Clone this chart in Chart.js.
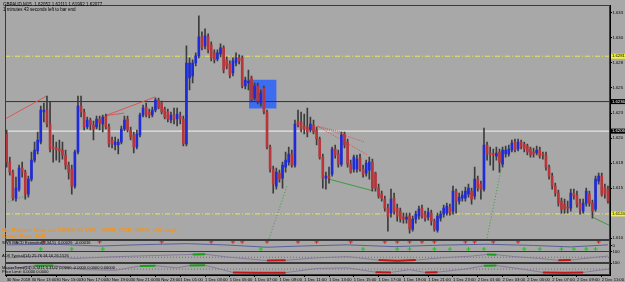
<!DOCTYPE html>
<html>
<head>
<meta charset="utf-8">
<script src="https://cdn.jsdelivr.net/npm/chart.js@4.4.1/dist/chart.umd.min.js"></script>
<style>
  html, body { margin: 0; padding: 0; background: #a8a8a8; overflow: hidden; }
  #wrap { width: 625px; height: 282px; }
</style>
</head>
<body>
<div id="wrap"><canvas id="chart" width="625" height="282"></canvas></div>
<script>
// GBPAUD M15, one entry per bar (bar 0 = 30 Nov 11:00)
const timeLabels = [
  "30 Nov 2018", "30 Nov 13:00", "30 Nov 15:00", "30 Nov 17:00", "30 Nov 19:00",
  "30 Nov 21:00", "30 Nov 23:00", "1 Dec 01:00", "1 Dec 03:00", "1 Dec 05:00",
  "1 Dec 07:00", "1 Dec 09:00", "1 Dec 11:00", "1 Dec 13:00", "1 Dec 15:00",
  "1 Dec 17:00", "1 Dec 19:00", "1 Dec 21:00", "1 Dec 23:00", "2 Dec 01:00",
  "2 Dec 03:00", "2 Dec 05:00", "2 Dec 07:00", "2 Dec 09:00", "2 Dec 11:00",
];

const opens = [
  1.6204, 1.6176, 1.6166, 1.6140, 1.6149, 1.6170, 1.6166, 1.6144, 1.6159, 1.6178,
  1.6187, 1.6196, 1.6226, 1.6228, 1.6214, 1.6191, 1.6190, 1.6189, 1.6188, 1.6183,
  1.6173, 1.6169, 1.6152, 1.6186, 1.6232, 1.6226, 1.6211, 1.6218, 1.6213, 1.6211,
  1.6219, 1.6214, 1.6222, 1.6211, 1.6198, 1.6193, 1.6193, 1.6196, 1.6209, 1.6219,
  1.6208, 1.6203, 1.6191, 1.6203, 1.6223, 1.6231, 1.6226, 1.6223, 1.6228, 1.6238,
  1.6235, 1.6229, 1.6226, 1.6218, 1.6223, 1.6219, 1.6222, 1.6219, 1.6194, 1.6260,
  1.6262, 1.6275, 1.6282, 1.6301, 1.6292, 1.6301, 1.6293, 1.6285, 1.6279, 1.6284,
  1.6290, 1.6278, 1.6274, 1.6265, 1.6275, 1.6280, 1.6280, 1.6252, 1.6255, 1.6260,
  1.6240, 1.6252, 1.6235, 1.6250, 1.6226, 1.6191, 1.6169, 1.6152, 1.6165, 1.6160,
  1.6171, 1.6176, 1.6184, 1.6173, 1.6216, 1.6216, 1.6212, 1.6211, 1.6208, 1.6213,
  1.6208, 1.6199, 1.6181, 1.6160, 1.6162, 1.6164, 1.6189, 1.6184, 1.6174, 1.6204,
  1.6196, 1.6174, 1.6169, 1.6169, 1.6180, 1.6169, 1.6165, 1.6168, 1.6176, 1.6165,
  1.6150, 1.6144, 1.6139, 1.6130, 1.6125, 1.6140, 1.6130, 1.6127, 1.6121, 1.6119,
  1.6122, 1.6109, 1.6119, 1.6122, 1.6130, 1.6124, 1.6121, 1.6125, 1.6117, 1.6108,
  1.6120, 1.6124, 1.6125, 1.6131, 1.6127, 1.6147, 1.6137, 1.6140, 1.6140, 1.6144,
  1.6147, 1.6142, 1.6159, 1.6154, 1.6149, 1.6193, 1.6185, 1.6184, 1.6182, 1.6186,
  1.6174, 1.6184, 1.6184, 1.6188, 1.6196, 1.6189, 1.6196, 1.6194, 1.6192, 1.6189,
  1.6186, 1.6185, 1.6188, 1.6184, 1.6183, 1.6171, 1.6162, 1.6152, 1.6145, 1.6137,
  1.6134, 1.6131, 1.6130, 1.6145, 1.6143, 1.6135, 1.6127, 1.6135, 1.6144, 1.6135,
  1.6129, 1.6157, 1.6162, 1.6151, 1.6149,
];
const highs = [
  1.6208, 1.6181, 1.6168, 1.6161, 1.6173, 1.6176, 1.6168, 1.6162, 1.6186, 1.6196,
  1.6206, 1.6232, 1.6235, 1.6242, 1.6236, 1.6203, 1.6196, 1.6198, 1.6196, 1.6188,
  1.6176, 1.6173, 1.6188, 1.6242, 1.6242, 1.6229, 1.6221, 1.6220, 1.6217, 1.6222,
  1.6222, 1.6223, 1.6224, 1.6214, 1.6201, 1.6201, 1.6199, 1.6212, 1.6222, 1.6222,
  1.6211, 1.6206, 1.6208, 1.6225, 1.6233, 1.6235, 1.6229, 1.6231, 1.6240, 1.6240,
  1.6237, 1.6231, 1.6229, 1.6226, 1.6230, 1.6230, 1.6226, 1.6222, 1.6292, 1.6280,
  1.6278, 1.6285, 1.6322, 1.6306, 1.6309, 1.6304, 1.6296, 1.6288, 1.6288, 1.6294,
  1.6292, 1.6281, 1.6277, 1.6280, 1.6285, 1.6283, 1.6282, 1.6261, 1.6268, 1.6262,
  1.6255, 1.6255, 1.6248, 1.6252, 1.6228, 1.6193, 1.6172, 1.6170, 1.6168, 1.6176,
  1.6186, 1.6191, 1.6188, 1.6218, 1.6228, 1.6226, 1.6224, 1.6230, 1.6221, 1.6218,
  1.6211, 1.6201, 1.6184, 1.6166, 1.6171, 1.6191, 1.6193, 1.6188, 1.6206, 1.6206,
  1.6199, 1.6178, 1.6183, 1.6183, 1.6184, 1.6173, 1.6178, 1.6181, 1.6179, 1.6166,
  1.6154, 1.6147, 1.6142, 1.6134, 1.6149, 1.6145, 1.6134, 1.6130, 1.6125, 1.6125,
  1.6125, 1.6122, 1.6127, 1.6132, 1.6133, 1.6127, 1.6130, 1.6128, 1.6119, 1.6125,
  1.6127, 1.6133, 1.6135, 1.6134, 1.6152, 1.6149, 1.6145, 1.6147, 1.6151, 1.6154,
  1.6150, 1.6171, 1.6162, 1.6157, 1.6210, 1.6196, 1.6191, 1.6189, 1.6191, 1.6189,
  1.6191, 1.6192, 1.6193, 1.6198, 1.6199, 1.6199, 1.6198, 1.6196, 1.6194, 1.6191,
  1.6190, 1.6192, 1.6191, 1.6186, 1.6186, 1.6173, 1.6165, 1.6155, 1.6148, 1.6140,
  1.6139, 1.6137, 1.6149, 1.6149, 1.6147, 1.6139, 1.6139, 1.6150, 1.6147, 1.6138,
  1.6162, 1.6165, 1.6165, 1.6154, 1.6152,
];
const lows = [
  1.6171, 1.6163, 1.6138, 1.6137, 1.6147, 1.6161, 1.6139, 1.6141, 1.6157, 1.6176,
  1.6184, 1.6194, 1.6216, 1.6211, 1.6186, 1.6176, 1.6178, 1.6176, 1.6179, 1.6169,
  1.6159, 1.6144, 1.6150, 1.6184, 1.6221, 1.6208, 1.6209, 1.6208, 1.6198, 1.6209,
  1.6208, 1.6206, 1.6209, 1.6191, 1.6190, 1.6188, 1.6184, 1.6194, 1.6207, 1.6206,
  1.6198, 1.6185, 1.6189, 1.6201, 1.6221, 1.6221, 1.6220, 1.6221, 1.6226, 1.6229,
  1.6224, 1.6219, 1.6216, 1.6215, 1.6214, 1.6212, 1.6214, 1.6192, 1.6192, 1.6248,
  1.6255, 1.6272, 1.6280, 1.6288, 1.6289, 1.6285, 1.6277, 1.6275, 1.6277, 1.6281,
  1.6265, 1.6269, 1.6260, 1.6262, 1.6272, 1.6274, 1.6250, 1.6249, 1.6248, 1.6236,
  1.6238, 1.6234, 1.6232, 1.6224, 1.6189, 1.6166, 1.6145, 1.6149, 1.6156, 1.6150,
  1.6166, 1.6173, 1.6171, 1.6171, 1.6211, 1.6206, 1.6204, 1.6201, 1.6206, 1.6204,
  1.6193, 1.6179, 1.6150, 1.6149, 1.6155, 1.6162, 1.6180, 1.6171, 1.6172, 1.6190,
  1.6171, 1.6165, 1.6166, 1.6166, 1.6167, 1.6161, 1.6162, 1.6159, 1.6147, 1.6147,
  1.6140, 1.6137, 1.6127, 1.6107, 1.6121, 1.6124, 1.6117, 1.6116, 1.6115, 1.6115,
  1.6105, 1.6107, 1.6115, 1.6119, 1.6120, 1.6117, 1.6118, 1.6113, 1.6107, 1.6106,
  1.6117, 1.6121, 1.6123, 1.6123, 1.6124, 1.6125, 1.6134, 1.6137, 1.6137, 1.6141,
  1.6134, 1.6139, 1.6147, 1.6139, 1.6147, 1.6178, 1.6173, 1.6168, 1.6178, 1.6166,
  1.6171, 1.6181, 1.6182, 1.6186, 1.6186, 1.6187, 1.6189, 1.6186, 1.6183, 1.6181,
  1.6181, 1.6183, 1.6180, 1.6179, 1.6168, 1.6159, 1.6149, 1.6142, 1.6132, 1.6125,
  1.6125, 1.6125, 1.6127, 1.6139, 1.6131, 1.6124, 1.6125, 1.6132, 1.6132, 1.6120,
  1.6127, 1.6154, 1.6142, 1.6140, 1.6135,
];
const closes = [
  1.6176, 1.6166, 1.6140, 1.6150, 1.6170, 1.6166, 1.6144, 1.6159, 1.6178, 1.6188,
  1.6198, 1.6228, 1.6228, 1.6214, 1.6189, 1.6189, 1.6188, 1.6187, 1.6183, 1.6173,
  1.6166, 1.6152, 1.6186, 1.6232, 1.6226, 1.6211, 1.6218, 1.6213, 1.6209, 1.6219,
  1.6215, 1.6221, 1.6211, 1.6194, 1.6194, 1.6196, 1.6196, 1.6209, 1.6218, 1.6208,
  1.6201, 1.6191, 1.6204, 1.6223, 1.6230, 1.6223, 1.6223, 1.6228, 1.6238, 1.6230,
  1.6226, 1.6221, 1.6219, 1.6223, 1.6219, 1.6224, 1.6219, 1.6194, 1.6275, 1.6275,
  1.6275, 1.6282, 1.6301, 1.6290, 1.6302, 1.6288, 1.6280, 1.6278, 1.6285, 1.6290,
  1.6268, 1.6272, 1.6263, 1.6277, 1.6280, 1.6277, 1.6252, 1.6258, 1.6257, 1.6238,
  1.6252, 1.6237, 1.6245, 1.6226, 1.6191, 1.6169, 1.6154, 1.6166, 1.6159, 1.6173,
  1.6178, 1.6184, 1.6173, 1.6214, 1.6213, 1.6209, 1.6209, 1.6206, 1.6214, 1.6206,
  1.6199, 1.6181, 1.6160, 1.6162, 1.6160, 1.6189, 1.6183, 1.6174, 1.6203, 1.6193,
  1.6174, 1.6166, 1.6181, 1.6179, 1.6169, 1.6164, 1.6175, 1.6176, 1.6150, 1.6150,
  1.6142, 1.6140, 1.6130, 1.6122, 1.6139, 1.6127, 1.6122, 1.6119, 1.6119, 1.6121,
  1.6109, 1.6119, 1.6124, 1.6129, 1.6122, 1.6120, 1.6126, 1.6117, 1.6109, 1.6122,
  1.6124, 1.6130, 1.6132, 1.6125, 1.6147, 1.6137, 1.6141, 1.6143, 1.6147, 1.6150,
  1.6139, 1.6159, 1.6150, 1.6149, 1.6193, 1.6184, 1.6183, 1.6183, 1.6185, 1.6176,
  1.6188, 1.6188, 1.6189, 1.6195, 1.6188, 1.6196, 1.6191, 1.6189, 1.6186, 1.6183,
  1.6184, 1.6188, 1.6182, 1.6183, 1.6171, 1.6162, 1.6152, 1.6145, 1.6135, 1.6129,
  1.6129, 1.6130, 1.6145, 1.6142, 1.6134, 1.6129, 1.6135, 1.6147, 1.6135, 1.6127,
  1.6159, 1.6162, 1.6144, 1.6144, 1.6137,
];

// price axis labels
const priceTicks = [
  1.61000, 1.61125, 1.61250, 1.61375, 1.61500, 1.61625, 1.61750, 1.61875, 1.62000,
  1.62125, 1.62250, 1.62375, 1.62500, 1.62625, 1.62750, 1.62875, 1.63000, 1.63125, 1.63250,
];

// horizontal levels
const levelYellowHigh = 1.62817;
const levelBlack = 1.62364;
const levelWhite = 1.62069;
const levelYellowLow = 1.61242;

// drawn objects: [barIndex, price] pairs
const boxZone = { from: 78.2, to: 87.1, top: 1.62581, bottom: 1.62295 };
const redLine1 = [[-0.54, 1.6219], [12.9, 1.6242]];
const redLine2 = [[31.8, 1.62223], [48.0, 1.62411]];
const redLine3 = [[31.8, 1.62223], [37.9, 1.62249]];
const redDots1 = [[100.3, 1.62118], [109.2, 1.62049]];
const redDots2 = [[100.3, 1.62118], [115.3, 1.61961]];
const redDots3 = [[100.3, 1.62118], [116.3, 1.61833]];
const greenLine1 = [[104.0, 1.61589], [117.9, 1.61475]];
const greenLine2 = [[189.3, 1.61205], [194.66, 1.61124]];
const greenDots1 = [[90.4, 1.61517], [84.6, 1.60990]];
const greenDots2 = [[159.5, 1.61685], [154.9, 1.60990]];
const greenDots3 = [[-0.54, 1.6135], [5.9, 1.6142]];

// indicator window 1: signal marks
const macdLine = [[0, 0.1], [15, 0.2], [30, -0.1], [45, 0.15], [58, 0.3], [70, 0.1], [84, -0.3], [95, -0.1],
  [110, 0.1], [125, -0.2], [140, 0.05], [155, 0.2], [170, 0.0], [182, -0.25], [194, 0.1]];
const redCrosses = [12, 30, 50, 66, 73, 76, 84, 94, 100, 111, 122, 126, 130, 134, 138, 148, 151, 157, 165, 191];
const greenCrosses = [11, 21, 31, 82, 115, 126, 130, 138, 143, 149, 154, 167, 172, 179, 183, 187, 190];

// indicator window 2
const oscA = [[0, 45], [12, 60], [22, 40], [35, 55], [48, 65], [60, 74], [64, 76], [72, 50], [84, 22], [90, 24],
  [100, 45], [110, 55], [120, 26], [126, 20], [132, 26], [140, 45], [150, 60], [155, 74], [158, 72], [164, 55],
  [172, 40], [178, 24], [182, 26], [190, 50], [194, 60]];
const oscAGreen = [[[60, 74], [64, 76]], [[155, 74], [158, 72]]];
const oscARed = [[[84, 22], [90, 24]], [[120, 26], [126, 20], [132, 26]], [[178, 24], [182, 26]]];

// indicator window 3
const oscB = [[0, 50], [9, 78], [15, 80], [25, 45], [35, 40], [43, 76], [48, 78], [55, 60], [59, 80], [64, 82],
  [73, 22], [80, 18], [90, 20], [100, 55], [110, 60], [119, 24], [124, 22], [130, 45], [135, 22], [139, 24],
  [148, 50], [154, 78], [158, 80], [165, 55], [173, 22], [180, 18], [186, 22], [194, 50]];
const oscBGreen = [[[9, 78], [15, 80]], [[43, 76], [48, 78]], [[59, 80], [64, 82]], [[154, 78], [158, 80]]];
const oscBRed = [[[73, 22], [80, 18], [90, 20]], [[119, 24], [124, 22]], [[135, 22], [139, 24]], [[173, 22], [180, 18], [186, 22]]];

const BG = "#a8a8a8";
const BULL = "#1e2bd8";
const BEAR = "#b8353a";
const WICK = "#3c3c3c";

function pts(pairs) {
  return pairs.map((p) => ({ x: p[0], y: p[1] }));
}

function segment(pairs, color, width, dash, axis, order) {
  return {
    type: "line",
    data: pts(pairs),
    borderColor: color,
    borderWidth: width,
    borderDash: dash || [],
    pointRadius: 0,
    tension: 0,
    yAxisID: axis || "y",
    order: order || 3,
  };
}

function hline(value, color, dash) {
  return segment([[-0.54, value], [194.66, value]], color, 1, dash, "y", 4);
}

const datasets = [
  {
    type: "bar",
    data: opens.map((o, i) => ({ x: i, y: [o, closes[i]] })),
    backgroundColor: opens.map((o, i) => (closes[i] >= o ? BULL : BEAR)),
    barThickness: 2,
    minBarLength: 1,
    grouped: false,
    yAxisID: "y",
    order: 0,
  },
  {
    type: "bar",
    data: lows.map((l, i) => ({ x: i, y: [l, highs[i]] })),
    backgroundColor: WICK,
    barThickness: 1,
    grouped: false,
    yAxisID: "y",
    order: 1,
  },
  {
    type: "line",
    data: pts([[boxZone.from, boxZone.top], [boxZone.to, boxZone.top]]),
    borderWidth: 0,
    pointRadius: 0,
    backgroundColor: "#3e6cf0",
    fill: { value: boxZone.bottom },
    yAxisID: "y",
    order: 6,
  },
  hline(levelYellowHigh, "#e6e65a", [5, 2, 1, 2]),
  hline(levelBlack, "#303030"),
  hline(levelWhite, "#f4f4f4"),
  hline(levelYellowLow, "#e6e65a", [5, 2, 1, 2]),
  segment(redLine1, "#d8585a", 1),
  segment(redLine2, "#d8585a", 1),
  segment(redLine3, "#d8585a", 1),
  segment(redDots1, "#d8585a", 1, [1, 1]),
  segment(redDots2, "#d8585a", 1, [1, 1]),
  segment(redDots3, "#d8585a", 1, [1, 1]),
  segment(greenLine1, "#3f9a3f", 1),
  segment(greenLine2, "#3f9a3f", 1),
  segment(greenDots1, "#3f9a3f", 1, [1, 2]),
  segment(greenDots2, "#3f9a3f", 1, [1, 2]),
  segment(greenDots3, "#3f9a3f", 1, [1, 2]),
  segment(macdLine, "#5a5f9a", 1, null, "y1", 2),
  {
    type: "scatter",
    data: redCrosses.map((i) => ({ x: i, y: 0.6 })),
    pointStyle: "cross",
    pointRadius: 2,
    borderColor: "#e02020",
    borderWidth: 1,
    yAxisID: "y1",
    order: 1,
  },
  {
    type: "scatter",
    data: greenCrosses.map((i) => ({ x: i, y: -0.6 })),
    pointStyle: "cross",
    pointRadius: 2,
    borderColor: "#20c020",
    borderWidth: 1,
    yAxisID: "y1",
    order: 1,
  },
  segment([[-0.54, 50], [194.66, 50]], "#707070", 1, [1, 2], "y2", 5),
  segment(oscA, "#8a7a9a", 1, null, "y2", 2),
  ...oscAGreen.map((s) => segment(s, "#18a018", 2, null, "y2", 1)),
  ...oscARed.map((s) => segment(s, "#c01818", 2, null, "y2", 1)),
  segment([[-0.54, 50], [194.66, 50]], "#707070", 1, [1, 2], "y3", 5),
  segment(oscB, "#8a7a9a", 1, null, "y3", 2),
  ...oscBGreen.map((s) => segment(s, "#18a018", 2, null, "y3", 1)),
  ...oscBRed.map((s) => segment(s, "#c01818", 2, null, "y3", 1)),
];

const axisFont = { family: "Liberation Sans", size: 4.2 };

function paneAxis(weight, min, max, ticks) {
  return {
    type: "linear",
    position: "right",
    stack: "pane",
    stackWeight: weight,
    min: min,
    max: max,
    afterBuildTicks: (scale) => {
      scale.ticks = ticks.map((v) => ({ value: v }));
    },
    afterFit: (scale) => {
      scale.width = 15;
      scale.paddingTop = 0;
      scale.paddingBottom = 0;
    },
    ticks: { font: axisFont, color: "#000", padding: 0.5 },
    grid: { drawOnChartArea: false, tickLength: 2, color: "#000" },
    border: { display: true, color: "#000" },
  };
}

const mtFrame = {
  id: "mtFrame",
  beforeDraw(chart) {
    const ctx = chart.ctx;
    ctx.save();
    ctx.fillStyle = BG;
    ctx.fillRect(0, 0, chart.width, chart.height);
    ctx.restore();
  },
  afterDatasetsDraw(chart) {
    const ctx = chart.ctx;
    const area = chart.chartArea;
    ctx.save();
    ctx.strokeStyle = "#3a3a3a";
    ctx.lineWidth = 1;
    ["y", "y1", "y2", "y3"].forEach((id) => {
      const s = chart.scales[id];
      ctx.strokeRect(area.left + 0.5, Math.round(s.top) + 0.5, area.right - area.left - 1, Math.round(s.bottom - s.top) - 1);
    });
    ctx.restore();
  },
  afterDraw(chart) {
    const ctx = chart.ctx;
    const y = chart.scales.y;
    ctx.save();
    ctx.textBaseline = "middle";
    ctx.fillStyle = "#000";
    ctx.font = "4.5px 'Liberation Sans'";
    ctx.fillText("GBPAUD,M15  1.62052 1.62111 1.61992 1.62077", 3, 5);
    ctx.fillText("1 minutes 43 seconds left to bar end", 3, 9.5);

    ctx.fillStyle = "#f0941e";
    ctx.font = "bold 6px 'Liberation Sans'";
    ctx.fillText("No Pattern Now on GBPAUD 15M,  WRR_CUP_INFO_v02.mq4", 2, 230);
    ctx.fillText("Entry Rule: N/R", 2, 236);

    ctx.fillStyle = "#000";
    ctx.font = "4px 'Liberation Sans'";
    ctx.fillText("SWS MACD Extended(5,34,5)  0.00026  -0.00016", 2, 243);
    ctx.fillText("ADX Typical(14) 25.76 24.16 26.1526", 2, 256);
    ctx.fillText("MasterTrend(14) 0.1411 0.4142 0.0000 -0.0000 0.0000 0.00000", 2, 268);
    ctx.fillText("Price Limit: 0.0000 0.0000", 2, 272);

    // axis value markers
    [
      [levelYellowHigh, "#f0f040", "#000"],
      [levelBlack, "#000", "#fff"],
      [levelWhite, "#000", "#fff"],
      [levelYellowLow, "#f0f040", "#000"],
    ].forEach(([v, bg, fg]) => {
      const py = y.getPixelForValue(v);
      ctx.fillStyle = bg;
      ctx.fillRect(611, py - 2.5, 14, 5);
      ctx.fillStyle = fg;
      ctx.font = "4.2px 'Liberation Sans'";
      ctx.fillText(v.toFixed(5), 612, py);
    });
    ctx.restore();
  },
};

new Chart(document.getElementById("chart"), {
  data: { datasets: datasets },
  plugins: [mtFrame],
  options: {
    responsive: false,
    animation: false,
    devicePixelRatio: 1,
    layout: { padding: { top: 1, left: 0, right: 0, bottom: 0 } },
    plugins: { legend: { display: false }, tooltip: { enabled: false } },
    scales: {
      x: {
        type: "linear",
        position: "bottom",
        offset: false,
        min: -0.54,
        max: 194.66,
        afterBuildTicks: (scale) => {
          scale.ticks = timeLabels.map((_, k) => ({ value: k * 8 }));
        },
        afterFit: (scale) => {
          scale.height = 7;
          scale.paddingLeft = 0;
          scale.paddingRight = 0;
        },
        ticks: {
          font: axisFont,
          color: "#000",
          align: "start",
          padding: 0.5,
          maxRotation: 0,
          autoSkip: false,
          callback: (v) => timeLabels[Math.round(v / 8)],
        },
        grid: { offset: false, drawOnChartArea: false, tickLength: 2, color: "#000" },
        border: { display: true, color: "#000" },
      },
      y: paneAxis(238, 1.60986, 1.63329, priceTicks),
      y1: paneAxis(12, -1, 1, [0]),
      y2: paneAxis(12, 0, 100, [100, 0]),
      y3: paneAxis(12, 0, 100, [100, 0]),
    },
  },
});
</script>
</body>
</html>
